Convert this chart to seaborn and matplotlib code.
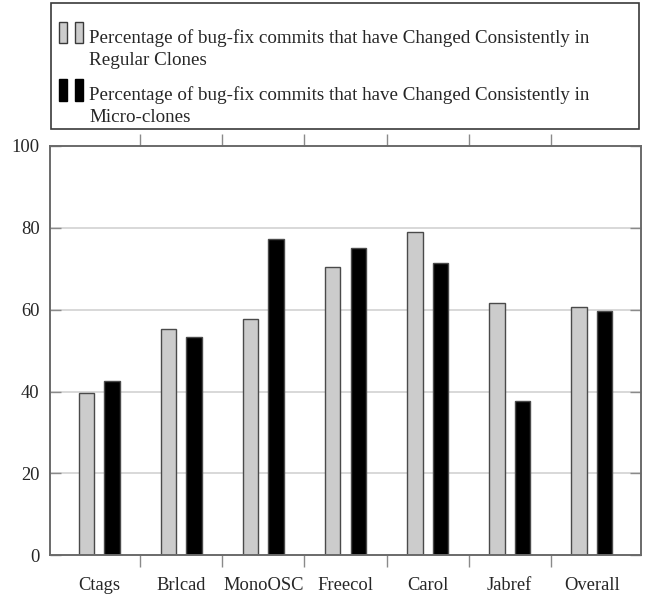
import matplotlib
matplotlib.use("Agg")
import matplotlib.pyplot as plt
from matplotlib.patches import Rectangle
from matplotlib.ticker import FixedLocator
import seaborn as sns
import pandas as pd

# Projects and the two consistency percentages per project
projects = ["Ctags", "Brlcad", "MonoOSC", "Freecol", "Carol", "Jabref", "Overall"]
regular_clones = [39.6, 55.3, 57.8, 70.5, 79.1, 61.6, 60.6]
micro_clones = [42.5, 53.4, 77.4, 75.2, 71.5, 37.7, 59.6]

series_labels = [
    "Percentage of bug-fix commits that have Changed Consistently in\nRegular Clones",
    "Percentage of bug-fix commits that have Changed Consistently in\nMicro-clones",
]
series_colors = ["#cccccc", "#000000"]
y_ticks = [0, 20, 40, 60, 80, 100]

df = pd.DataFrame({
    "project": projects * 2,
    "series": [series_labels[0]] * len(projects) + [series_labels[1]] * len(projects),
    "value": regular_clones + micro_clones,
})

sns.set_style("white")
plt.rcParams["font.family"] = ["Liberation Serif", "DejaVu Serif"]
plt.rcParams["font.size"] = 13

W, H = 645, 597
fig = plt.figure(figsize=(W / 100, H / 100), dpi=100)


def fx(px):
    return px / W


def fy(py):
    return 1 - py / H


ax = fig.add_axes([fx(50), fy(555.3), fx(641) - fx(50), fy(146) - fy(555.3)])

sns.barplot(
    data=df, x="project", y="value", hue="series",
    order=projects, hue_order=series_labels,
    palette=dict(zip(series_labels, series_colors)),
    width=0.626, gap=0.393, edgecolor="#4a4a4a", linewidth=1.0,
    legend=False, ax=ax, zorder=3,
)

ax.set_xlim(-0.6, len(projects) - 0.4)
ax.set_ylim(0, 100)
ax.set_xlabel("")
ax.set_ylabel("")

# y axis: inward ticks on both sides, light grid at interior ticks
ax.set_yticks(y_ticks)
ax.set_yticklabels([str(t) for t in y_ticks])
ax.tick_params(axis="y", which="major", direction="in", length=8, width=1,
               color="#8a8a8a", left=True, right=True, pad=7.5, labelsize=13.3)
for t in y_ticks[1:-1]:
    ax.axhline(t, color="#d6d6d6", lw=1.3, zorder=0)

# x axis: category labels at group centres, separators between groups
ax.set_xticks(range(len(projects)))
ax.set_xticklabels(projects)
ax.xaxis.set_minor_locator(FixedLocator([i + 0.5 for i in range(len(projects) - 1)]))
ax.tick_params(axis="x", which="major", length=0, pad=15.5, labelsize=13.3)
ax.tick_params(axis="x", which="minor", direction="out", length=8.5, width=1,
               color="#8a8a8a", bottom=True, top=True)

for s in ax.spines.values():
    s.set_visible(True)
    s.set_color("#6a6a6a")
    s.set_linewidth(1.4)
    s.set_zorder(4)

# legend box above the axes
fig.add_artist(Rectangle((fx(50.7), fy(129)), fx(639.3) - fx(50.7), fy(3.3) - fy(129),
                         transform=fig.transFigure, fill=False,
                         ec="#3a3a3a", lw=1.2))
entry_baselines = [42.7, 100.5]
for label, color, base in zip(series_labels, series_colors, entry_baselines):
    for x0 in (59.3, 75.3):
        fig.add_artist(Rectangle((fx(x0), fy(base)), fx(8), fy(base - 21) - fy(base),
                                 transform=fig.transFigure, fc=color,
                                 ec="#3a3a3a" if color != "#000000" else "#000000",
                                 lw=1.0))
    for i, line in enumerate(label.split("\n")):
        fig.text(fx(89.3), fy(base + i * 22), line, fontsize=13.7,
                 ha="left", va="baseline")

fig.savefig("out.png", dpi=100)
